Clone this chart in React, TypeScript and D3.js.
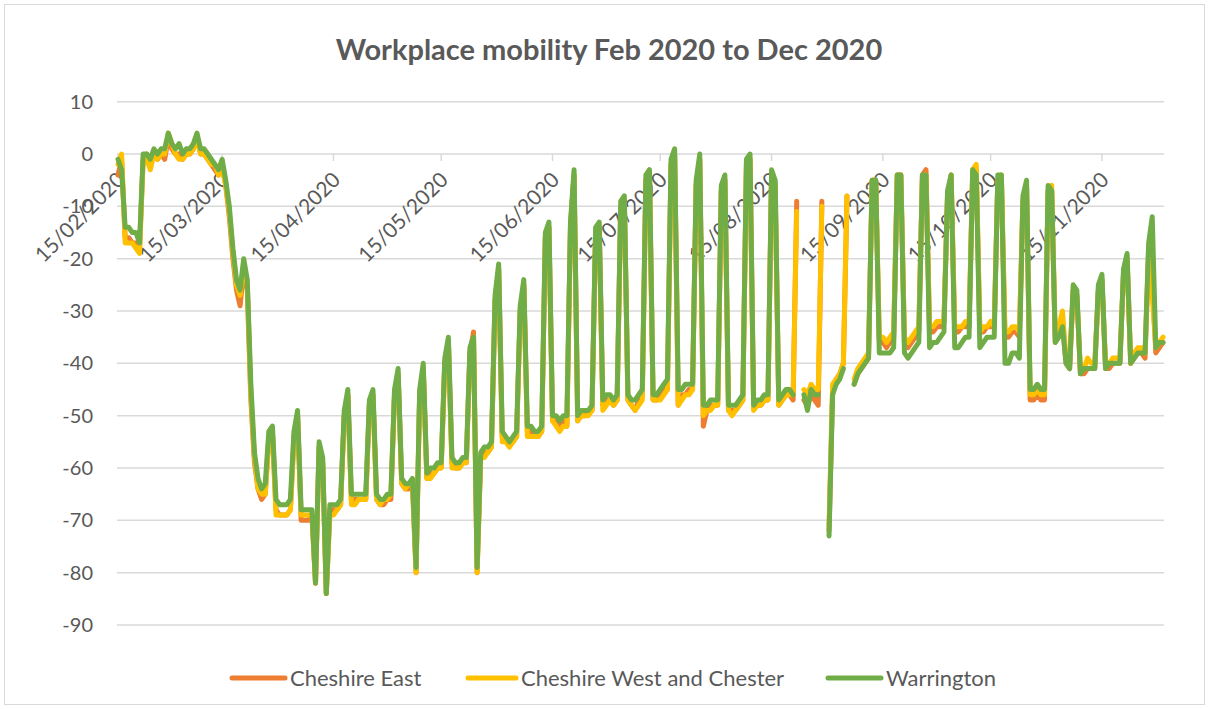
import * as d3 from "d3";

// Google workplace mobility, % change from baseline, daily from 15/02/2020 to 02/12/2020
// rows are weeks: Sat, Sun, Mon, Tue, Wed, Thu, Fri
const cheshireEast: (number | null)[] = [
  -4, -1, -16, -16, -17, -17, -18,
  -1, 0, -2, 0, -1, 0, -1,
  3, 1, 0, 0, -1, 0, 0,
  1, 3, 0, 0, -1, -2, -3,
  -4, -2, -6, -12, -20, -26, -29,
  -22, -26, -47, -59, -64, -66, -65,
  -54, -53, -68, -69, -69, -69, -68,
  -54, -50, -70, -70, -70, -69, -82,
  -56, -59, -84, -68, -68, -68, -67,
  -50, -46, -66, -66, -66, -66, -66,
  -48, -46, -66, -67, -67, -66, -66,
  -46, -42, -63, -64, -64, -63, -80,
  -46, -41, -62, -61, -61, -60, -60,
  -40, -36, -59, -60, -60, -59, -59,
  -38, -34, -80, -58, -57, -57, -56,
  -28, -22, -54, -55, -55, -55, -54,
  -30, -25, -53, -53, -54, -54, -53,
  -16, -14, -51, -51, -52, -51, -52,
  -14, -4, -51, -50, -50, -49, -49,
  -15, -14, -48, -47, -47, -48, -47,
  -10, -9, -47, -48, -49, -47, -46,
  -5, -4, -47, -47, -46, -45, -45,
  -2, 0, -48, -46, -46, -45, -45,
  -6, -1, -52, -49, -48, -48, -48,
  -7, -5, -49, -49, -49, -48, -47,
  -2, -1, -48, -48, -48, -47, -47,
  -4, -6, -48, -47, -46, -46, -47,
  -9, null, -47, -48, -46, -47, -48,
  -9, null, -72, -45, -43, -42, -40,
  -8, null, -44, -42, -41, -40, -39,
  -5, -5, -36, -36, -37, -36, -35,
  -4, -4, -36, -37, -36, -35, -34,
  -4, -3, -34, -34, -33, -33, -32,
  -8, -4, -34, -34, -33, -33, -33,
  -4, -3, -34, -34, -33, -33, -33,
  -5, -5, -35, -35, -34, -34, -35,
  -9, -6, -47, -47, -46, -47, -47,
  -7, -7, -36, -34, -32, -40, -41,
  -26, -27, -42, -42, -41, -41, -41,
  -26, -24, -41, -41, -40, -40, -40,
  -23, -20, -40, -39, -38, -38, -39,
  -18, -24, -38, -37, -36,
];

const cheshireWest: (number | null)[] = [
  -2, 0, -17, -17, -17, -18, -19,
  -1, -1, -3, 0, -1, 0, 0,
  4, 2, 0, -1, -1, 0, 0,
  1, 3, 0, 0, -1, -2, -2,
  -4, -3, -6, -11, -19, -25, -27,
  -21, -25, -46, -58, -64, -65, -65,
  -55, -53, -69, -69, -69, -69, -68,
  -55, -50, -69, -69, -69, -69, -82,
  -56, -59, -84, -69, -69, -68, -67,
  -50, -46, -67, -67, -66, -66, -66,
  -48, -46, -66, -67, -66, -66, -65,
  -46, -42, -63, -64, -63, -63, -80,
  -46, -41, -62, -62, -61, -60, -60,
  -40, -36, -60, -60, -60, -59, -59,
  -38, -35, -80, -58, -58, -57, -56,
  -28, -22, -55, -55, -56, -55, -54,
  -30, -25, -54, -54, -54, -54, -53,
  -16, -14, -51, -52, -53, -52, -52,
  -14, -4, -51, -50, -50, -50, -49,
  -15, -14, -49, -48, -47, -48, -47,
  -10, -9, -47, -48, -49, -48, -47,
  -5, -4, -47, -47, -47, -46, -45,
  -2, 0, -48, -47, -46, -46, -45,
  -6, -1, -50, -49, -49, -48, -48,
  -7, -5, -49, -50, -49, -48, -47,
  -2, -1, -49, -48, -48, -47, -47,
  -4, -6, -48, -47, -46, -46, -46,
  -11, null, -45, -46, -44, -45, -45,
  -10, null, -71, -44, -43, -42, -40,
  -8, null, -43, -41, -40, -39, -38,
  -5, -5, -35, -35, -36, -35, -34,
  -4, -4, -35, -36, -35, -34, -33,
  -5, -4, -33, -33, -32, -32, -32,
  -8, -4, -33, -33, -33, -32, -32,
  -3, -2, -34, -33, -33, -32, -33,
  -5, -4, -34, -34, -33, -33, -34,
  -9, -6, -46, -46, -45, -46, -46,
  -7, -6, -35, -33, -30, -39, -40,
  -26, -27, -41, -41, -39, -40, -40,
  -26, -24, -40, -40, -39, -39, -39,
  -23, -20, -40, -38, -37, -37, -38,
  -20, -27, -37, -36, -35,
];

const warrington: (number | null)[] = [
  -1, -3, -14, -14, -15, -15, -17,
  0, 0, -1, 1, 0, 1, 1,
  4, 2, 1, 2, 0, 1, 1,
  2, 4, 1, 1, 0, -1, -2,
  -3, -1, -5, -10, -18, -24, -26,
  -20, -24, -44, -57, -62, -64, -63,
  -53, -52, -66, -67, -67, -67, -66,
  -53, -49, -68, -68, -68, -68, -82,
  -55, -58, -84, -67, -67, -67, -66,
  -49, -45, -65, -65, -65, -65, -65,
  -47, -45, -65, -66, -66, -65, -65,
  -45, -41, -62, -63, -63, -62, -79,
  -45, -40, -61, -60, -60, -59, -59,
  -39, -35, -58, -59, -59, -58, -58,
  -37, -35, -79, -57, -56, -56, -55,
  -27, -21, -53, -54, -55, -54, -53,
  -29, -24, -52, -52, -53, -53, -52,
  -15, -13, -50, -50, -51, -50, -50,
  -13, -3, -50, -49, -49, -49, -48,
  -14, -13, -47, -46, -46, -47, -46,
  -9, -8, -46, -47, -47, -46, -45,
  -4, -3, -46, -46, -45, -44, -43,
  -1, 1, -45, -45, -44, -44, -44,
  -5, 0, -48, -48, -47, -47, -47,
  -6, -4, -48, -48, -48, -47, -46,
  -1, 0, -48, -47, -47, -46, -46,
  -3, -5, -47, -46, -45, -45, -46,
  null, null, -46, -49, -45, -46, -46,
  null, null, -73, -46, -44, -43, -41,
  null, null, -44, -42, -41, -40, -39,
  -5, -5, -38, -38, -38, -38, -37,
  -4, -4, -38, -39, -38, -37, -36,
  -4, -4, -37, -36, -36, -35, -34,
  -7, -4, -37, -37, -36, -35, -35,
  -3, -4, -37, -36, -35, -35, -35,
  -4, -4, -40, -40, -38, -38, -39,
  -8, -5, -45, -45, -44, -45, -45,
  -6, -7, -36, -35, -33, -40, -41,
  -25, -26, -42, -41, -41, -41, -41,
  -25, -23, -41, -40, -40, -40, -40,
  -22, -19, -40, -39, -38, -38, -38,
  -17, -12, -37, -36, -36,
];

const seriesNames = ["Cheshire East", "Cheshire West and Chester", "Warrington"];
const seriesColors = ["#ED7D31", "#FFC000", "#70AD47"];
const yTicks = [10, 0, -10, -20, -30, -40, -50, -60, -70, -80, -90];
const xTickMonths = [1, 2, 3, 4, 5, 6, 7, 8, 9, 10]; // 15th of Feb..Nov

const W = 1209;
const H = 709;
const FONT = "Lato, 'Open Sans', sans-serif";
const GREY = "#595959";
const GRID = "#D9D9D9";

const start = new Date(2020, 1, 15);
const dates = warrington.map((_, i) => d3.timeDay.offset(start, i));

const x = d3
  .scaleTime()
  .domain([start, dates[dates.length - 1]])
  .range([118, 1163]);
const y = d3.scaleLinear().domain([-90, 10]).range([625, 101.7]);

const line = d3
  .line<number | null>()
  .defined((v) => v !== null)
  .x((_, i) => x(dates[i]))
  .y((v) => y(v as number));

const fmt = d3.timeFormat("%d/%m/%Y");

// legend swatch start, text start
const legendPos = [
  [232, 290],
  [468, 521],
  [828, 886],
];

export default function App() {
  const all = [cheshireEast, cheshireWest, warrington];
  const xTicks = xTickMonths.map((m) => new Date(2020, m, 15));
  return (
    <svg
      width={W}
      height={H}
      style={{ position: "absolute", left: 0, top: 0, background: "#fff" }}
      fontFamily={FONT}
    >
      <rect x={4.5} y={4.5} width={W - 9} height={H - 9} fill="#fff" stroke={GRID} />
      <text x={609} y={60} textAnchor="middle" fontSize={29} fontWeight="bold" fill={GREY}>
        Workplace mobility Feb 2020 to Dec 2020
      </text>

      {yTicks.map((t) => (
        <g key={t}>
          <line x1={117} x2={1164} y1={y(t)} y2={y(t)} stroke={GRID} strokeWidth={1.5} />
          <text x={93} y={y(t)} dy="0.35em" textAnchor="end" fontSize={20} fill={GREY}>
            {t}
          </text>
        </g>
      ))}

      {xTicks.map((d) => (
        <g key={+d}>
          <line x1={x(d)} x2={x(d)} y1={y(0)} y2={y(0) + 7} stroke={GRID} strokeWidth={1.5} />
          <text
            transform={`translate(${x(d) + 3},${y(0) + 22}) rotate(-45)`}
            textAnchor="end"
            dy="0.35em"
            fontSize={21}
            fill={GREY}
          >
            {fmt(d)}
          </text>
        </g>
      ))}

      {all.map((s, k) => (
        <path
          key={k}
          d={line(s) || ""}
          fill="none"
          stroke={seriesColors[k]}
          strokeWidth={5}
          strokeLinejoin="round"
          strokeLinecap="round"
        />
      ))}

      {seriesNames.map((n, k) => (
        <g key={n}>
          <line
            x1={legendPos[k][0]}
            x2={legendPos[k][1] - 5}
            y1={678}
            y2={678}
            stroke={seriesColors[k]}
            strokeWidth={5}
            strokeLinecap="round"
          />
          <text x={legendPos[k][1]} y={678} dy="0.35em" fontSize={22} fill={GREY}>
            {n}
          </text>
        </g>
      ))}
    </svg>
  );
}
